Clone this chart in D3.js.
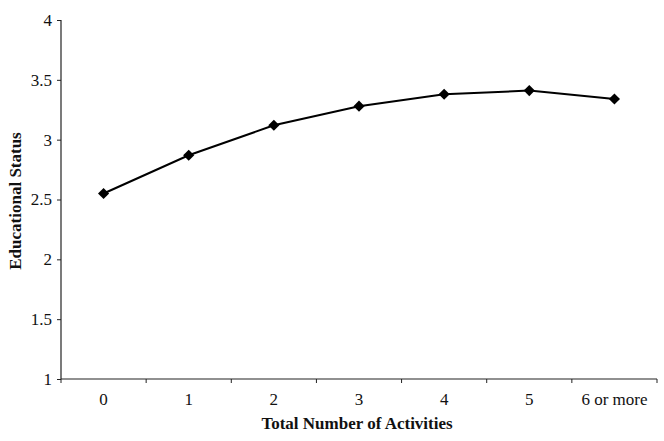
<!DOCTYPE html>
<html>
<head>
<meta charset="utf-8">
<script src="https://cdn.jsdelivr.net/npm/d3@7"></script>
<style>
  body { margin: 0; background: #fff; }
  text { font-family: "Liberation Serif", "Times New Roman", serif; fill: #111; }
</style>
</head>
<body>
<div id="chart"></div>
<script>
// categories and values
var categories = ["0", "1", "2", "3", "4", "5", "6 or more"];
var eduStatus = [2.55, 2.87, 3.12, 3.28, 3.38, 3.41, 3.34];
var yTicks = [1, 1.5, 2, 2.5, 3, 3.5, 4];

var width = 664;
var height = 441;
var margin = { left: 61, right: 7, top: 20, bottom: 62 };

var svg = d3.select("#chart")
    .append("svg")
    .attr("width", width)
    .attr("height", height);

var x = d3.scaleBand()
    .domain(categories)
    .range([margin.left, width - margin.right]);

var y = d3.scaleLinear()
    .domain([1, 4])
    .range([height - margin.bottom, margin.top]);

// y axis
var yAxis = svg.append("g")
    .attr("transform", "translate(" + margin.left + ",0)")
    .call(d3.axisLeft(y).tickValues(yTicks).tickSize(4).tickPadding(5).tickFormat(d3.format("")));
yAxis.select(".domain").attr("d", "M0," + y(4) + "V" + y(1)).attr("stroke", "#222").attr("stroke-width", 1.2);
yAxis.selectAll(".tick line").attr("stroke", "#222");
yAxis.selectAll("text").style("font-size", "17px").attr("fill", "#111");

// x axis - ticks sit on band edges
var xAxis = svg.append("g")
    .attr("transform", "translate(0," + y(1) + ")")
    .call(d3.axisBottom(x).tickSize(0).tickPadding(14));
xAxis.select(".domain").attr("d", "M" + x.range()[0] + ",0H" + x.range()[1]).attr("stroke", "#222").attr("stroke-width", 1.2);
xAxis.selectAll("text").style("font-size", "17px").attr("fill", "#111");

var edges = categories.map(function (c) { return x(c); }).concat([x.range()[1]]);
xAxis.selectAll(".edge")
    .data(edges)
    .enter().append("line")
    .attr("class", "edge")
    .attr("x1", function (d) { return d; })
    .attr("x2", function (d) { return d; })
    .attr("y1", 0)
    .attr("y2", 4)
    .attr("stroke", "#222");

// axis titles
svg.append("text")
    .attr("x", 357)
    .attr("y", 429)
    .attr("text-anchor", "middle")
    .style("font-size", "17px")
    .style("font-weight", "bold")
    .text("Total Number of Activities");

svg.append("text")
    .attr("transform", "translate(21,201) rotate(-90)")
    .attr("text-anchor", "middle")
    .style("font-size", "17px")
    .style("font-weight", "bold")
    .text("Educational Status");

// line + markers
var pts = categories.map(function (c, i) { return { c: c, v: eduStatus[i] }; });

var line = d3.line()
    .x(function (d) { return x(d.c) + x.bandwidth() / 2; })
    .y(function (d) { return y(d.v); });

svg.append("path")
    .datum(pts)
    .attr("d", line)
    .attr("fill", "none")
    .attr("stroke", "#000")
    .attr("stroke-width", 2);

svg.selectAll(".marker")
    .data(pts)
    .enter().append("path")
    .attr("class", "marker")
    .attr("d", d3.symbol().type(d3.symbolSquare).size(62))
    .attr("transform", function (d) {
        return "translate(" + (x(d.c) + x.bandwidth() / 2) + "," + y(d.v) + ") rotate(45)";
    })
    .attr("fill", "#000");
</script>
</body>
</html>
